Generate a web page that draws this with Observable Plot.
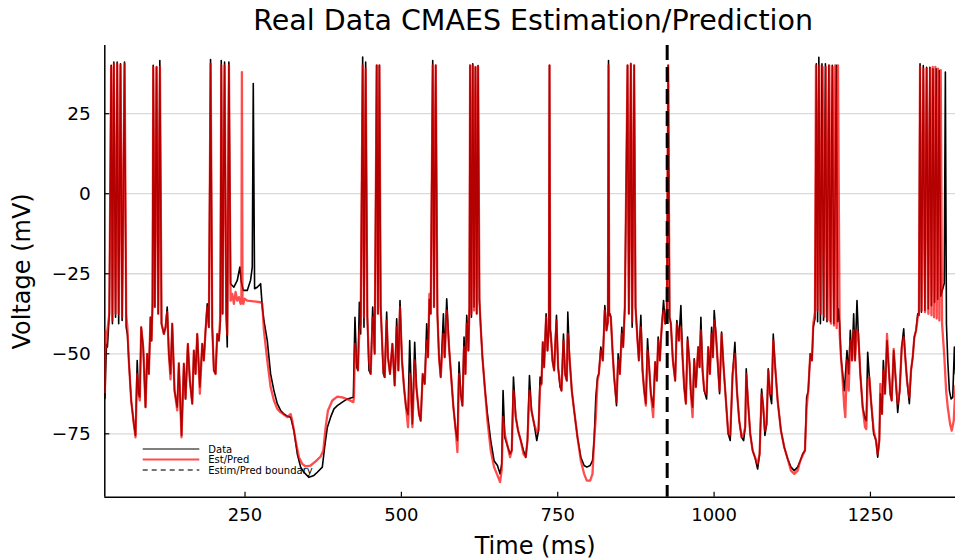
<!DOCTYPE html>
<html><head><meta charset="utf-8">
<script src="https://cdn.jsdelivr.net/npm/d3@7"></script>
<script src="https://cdn.jsdelivr.net/npm/@observablehq/plot@0.6"></script>
<style>
body{margin:0;background:#fff;}
#chart svg{display:block;}
</style></head><body><div id="chart"></div>
<script>
const titleText = "Real Data CMAES Estimation/Prediction";
const xLabel = "Time (ms)";
const yLabel = "Voltage (mV)";
const seriesNames = ["Data", "Est/Pred", "Estim/Pred boundary"];
const xTicks = [250, 500, 750, 1000, 1250];
const yTicks = [-75, -50, -25, 0, 25];
const xDomain = [25.8, 1386];
const yDomain = [-94.8, 46.3];
const boundaryTime = [925];

// Data (black) subthreshold trace [time ms, mV]
const dataSub = [[26,-64],[27,-56.3],[28.5,-47],[30,-47.9],[33,-37.5],[38,-40.6],[43,-38.6],[48,-40.6],[53.5,-39.6],[60,-41.7],[62,-44],[64.2,-52.1],[68,-64.6],[72.2,-71.9],[74.9,-75.5],[77.6,-52.1],[79.7,-62.5],[81.8,-63.5],[84,-41.7],[87.2,-47.9],[90.9,-66.7],[93.6,-50],[96.2,-56.3],[98.9,-38.6],[100.5,-45.9],[102.1,-35],[105.8,-35.4],[111.2,-37.5],[116.5,-40.6],[120.2,-43.8],[122.9,-41.7],[125.6,-35.4],[128.2,-50],[130.9,-56.3],[133.6,-40.6],[137.3,-61.5],[141.6,-66.7],[144.2,-53],[148.5,-75.5],[152.2,-53.1],[154.9,-64.1],[158.6,-46.9],[161.8,-58.4],[165.6,-65.6],[168.2,-49],[170.9,-56.3],[173.6,-43.8],[177.8,-60.4],[181.6,-46.9],[184.2,-52.1],[186.9,-42.7],[189.6,-34.4],[192.2,-41.7],[197.6,-41.7],[200.2,-55.2],[202.9,-56.3],[205.6,-43.8],[208.2,-45.9],[210.5,-40],[214.1,-37.5],[220,-37.5],[221.6,-47.9],[226.9,-28.1],[232.2,-29.2],[237.6,-27.1],[241.8,-22.9],[244,-27.5],[247.2,-30.2],[253.6,-30.2],[258.9,-27],[261.6,-22.9],[265.3,-29.7],[269.6,-29.2],[274.9,-28.1],[277.6,-35.4],[280.2,-39.6],[285.6,-45.9],[290.9,-56.3],[296.2,-61.5],[301.6,-65.6],[306.9,-67.7],[312.2,-68.8],[317.6,-69.5],[322.9,-69.8],[328.2,-74],[333.6,-81.3],[338.9,-85.4],[344.2,-87],[352.2,-88.6],[360.2,-88],[365.6,-87],[373.6,-85.4],[377.3,-79.2],[381.6,-73],[386.9,-69.8],[392.2,-67.2],[397.6,-66.2],[405.6,-65.1],[413.6,-64.1],[423.2,-63.6],[425.8,-38.6],[428.5,-54.2],[430.6,-55.2],[432.8,-33.9],[434.9,-43.8],[440.2,-41.7],[445.6,-38.6],[448.2,-55.2],[450.9,-56.3],[454.1,-35.4],[457.3,-50],[462.6,-37.5],[466.9,-35.4],[471.2,-56.3],[473.3,-57.3],[476.5,-37],[478.6,-51.1],[481.8,-56.3],[485.6,-46.9],[489.3,-59.9],[492.5,-39.1],[495.2,-55.2],[497.8,-33.4],[501,-52.1],[504.2,-60.4],[507.4,-66.7],[510.6,-69],[513.3,-45.9],[517.6,-71.9],[521.3,-46.4],[524,-60.4],[528.2,-68.8],[530.9,-70.9],[534.1,-56.3],[537.3,-59.4],[540.5,-40.6],[542.6,-51.1],[544.8,-33],[546.9,-37.5],[552.2,-35.4],[557.6,-37.5],[560.2,-51.1],[562.9,-57.3],[567.2,-37.5],[569.3,-51.1],[572.5,-32.8],[576.2,-47.9],[578.9,-55.2],[583.2,-66.7],[586.9,-74],[589.6,-77.1],[592.2,-52.6],[594.9,-62.5],[597.6,-66.2],[600.2,-44.8],[602.4,-56.3],[604.5,-38],[607.2,-49],[608.8,-35.4],[612,-38.6],[616.2,-35.4],[620.5,-37.5],[624.8,-33.4],[626.9,-41.7],[629.6,-51.1],[633.8,-61.5],[637.6,-68.8],[642.9,-77.1],[648.2,-83.4],[653.6,-84.9],[657.8,-87.5],[660.5,-84.4],[662.6,-61.5],[665.3,-76.1],[669.6,-78.7],[673.8,-81.3],[676.5,-80.2],[679.2,-57.3],[682.9,-69.8],[686.6,-74],[690.9,-77.1],[695.2,-80.2],[698.9,-82.3],[701.6,-77.1],[704.8,-56.8],[708,-67.7],[712.2,-71.9],[716.5,-77.1],[719.2,-74],[721.8,-57.3],[724,-59.4],[726.1,-46.4],[728.2,-54.2],[731.4,-37.5],[733.6,-49],[735.8,-42],[738,-42.5],[738.9,-43.8],[741.6,-52.1],[744.2,-55.2],[748,-38],[750.6,-54.2],[753.8,-60.4],[756,-61.5],[759.2,-43.8],[761.8,-56.3],[764.5,-58.4],[766.1,-37],[768.8,-51.1],[772.5,-61.5],[776.2,-67.7],[781.6,-76.1],[786.9,-82.3],[792.2,-84.9],[796.5,-85.4],[801.8,-84.9],[805.6,-83.4],[808.2,-77.1],[810.9,-63.6],[813.6,-57.3],[815.7,-56.3],[818.9,-47.9],[822.1,-52.1],[825.3,-34.9],[828,-42.7],[830.2,-40],[832.3,-38],[833.3,-37.5],[834.9,-38.6],[837.6,-49],[840.2,-57.3],[844,-66.2],[846.6,-50],[849.3,-56.3],[852.5,-41.7],[854.6,-47.9],[857.3,-35.4],[863.7,-37.5],[869,-41.7],[874.4,-35.4],[877.6,-45.9],[879.7,-52.1],[882.9,-38],[885.6,-55.2],[888.2,-61.5],[890.9,-65.6],[893.6,-45.3],[896.2,-54.2],[898.9,-62.5],[902.6,-66.7],[905.8,-52.6],[908.5,-58.4],[910.6,-44.8],[913.3,-52.1],[914.9,-45.9],[917,-39.6],[919.2,-33.4],[921.8,-40.6],[924.5,-36],[928.8,-38.6],[930.9,-40.6],[934.1,-52.1],[937.8,-58.4],[940.5,-39.6],[943.7,-45.9],[946.9,-34.9],[949.6,-51.1],[952.2,-60.4],[954.9,-65.6],[957.6,-44.8],[960.8,-53.1],[962.9,-62.5],[965.6,-66.7],[968.2,-51.6],[970.9,-60.4],[974.6,-47.9],[976.8,-54.2],[978.9,-38.6],[981.6,-55.2],[984.2,-61.5],[988,-64.1],[990.6,-47.9],[993.3,-56.3],[996,-41.7],[998.1,-51.1],[1000.2,-36.5],[1002.9,-43.8],[1005.6,-52.1],[1008.8,-62.5],[1012,-43.2],[1015.2,-54.2],[1018.9,-64.6],[1022.6,-75],[1025.8,-77.1],[1029.6,-56.3],[1033.3,-46.4],[1036.5,-61.5],[1040.2,-70.9],[1044,-76.1],[1047.2,-77.1],[1049.8,-72.9],[1051.4,-54.7],[1054.1,-64.6],[1057.8,-75],[1061.6,-80.2],[1065.3,-82.3],[1069.6,-86],[1072.8,-81.3],[1076,-61],[1078.6,-66.7],[1081.3,-75.5],[1084,-71.9],[1086.6,-54.7],[1089.3,-62.5],[1092,-65.6],[1094.6,-43.8],[1097.3,-53.1],[1101.6,-64.6],[1106.9,-74],[1112.2,-79.2],[1117.6,-82.8],[1122.9,-85.4],[1128.2,-86.5],[1133.6,-85.4],[1137.8,-83.4],[1141.6,-81.3],[1145.3,-80.2],[1148,-63.6],[1150.6,-61.5],[1153.8,-50],[1156.5,-52.1],[1158.6,-41.7],[1161.3,-39],[1165.5,-40],[1170,-40.6],[1175,-39.5],[1180.5,-40],[1186,-40],[1191.5,-40.6],[1197.5,-40],[1199,-36],[1200.8,-40.6],[1202.9,-51.1],[1205.6,-56.3],[1208.2,-61.5],[1209.8,-57.3],[1212.5,-49],[1215.2,-56.3],[1217.8,-42.7],[1220.5,-52.1],[1223.2,-37.5],[1225.3,-52.1],[1228.5,-33.4],[1230.6,-43.8],[1233.8,-56.3],[1237.6,-66.7],[1241.3,-70.3],[1243.4,-70.9],[1245.6,-49.5],[1248.2,-57.3],[1250.9,-64.6],[1255.2,-75],[1258.9,-77.1],[1261.6,-82.3],[1264.2,-77.1],[1265.8,-62.5],[1268.5,-68.8],[1270.6,-52.1],[1273.3,-62.5],[1276.5,-45.9],[1279.2,-54.2],[1281.8,-62.5],[1284,-64.6],[1287.2,-49],[1289.8,-56.3],[1293.6,-68.3],[1296.8,-61.5],[1300,-47.9],[1303.2,-42.2],[1305.3,-50],[1308.5,-58.4],[1312.2,-65.6],[1314.9,-55.2],[1317.6,-51.1],[1320.2,-44.8],[1322.9,-42.7],[1325.6,-37.5],[1327.5,-38],[1331.5,-37],[1337,-36.5],[1342.5,-36],[1347.5,-35],[1352.5,-34],[1357.5,-33],[1362.5,-32],[1365,-30.2],[1368,-28],[1371.5,-40.6],[1373.6,-52.1],[1376.2,-61.5],[1378.9,-64.1],[1381.6,-63.6],[1384.2,-47.9],[1386,-56.3]];

// Data (black) spike peaks [time ms, mV]
const dataSpikes = [[36,40.1],[40.2,41.1],[45.6,41.1],[50.9,40.6],[57.3,41.1],[103.2,40.1],[108.5,39.6],[113.8,41.6],[194.9,41.9],[212,41.6],[217.3,41.1],[224.2,41.1],[263.2,34.4],[438.1,42.7],[442.9,41.1],[460.5,40.1],[464.8,40.1],[550.1,41.6],[554.9,40.1],[609.8,40.1],[614.1,40.6],[618.4,39.6],[622.6,40],[736.8,40.1],[831.2,41.6],[861.6,40.1],[866.9,40.6],[872.2,40.1],[926.6,40.1],[1163.5,40.6],[1167.5,42.6],[1172.5,40.6],[1178,40.6],[1183.5,40.1],[1189,40.1],[1195.5,40.1],[1329.3,40.6],[1334.5,40],[1339.8,39.5],[1345,39.5],[1350,39],[1355,39],[1360,38.5],[1369.8,38]];

// Est/Pred (red) subthreshold trace [time ms, mV]
const predSub = [[26,-62],[27,-43],[28.5,-48],[30,-42.7],[33,-37.5],[38,-39.6],[43,-37.5],[48,-37.5],[53.5,-38.6],[60,-37.5],[62,-42],[64.2,-52.1],[68,-64.6],[72.2,-71.9],[74.9,-76.1],[77.6,-56.3],[79.7,-62.5],[81.8,-64.6],[84,-41.7],[87.2,-47.9],[90.9,-66.7],[93.6,-50],[96.2,-56.3],[98.9,-38.6],[100.5,-45.9],[102.1,-33.5],[105.8,-35.4],[111.2,-37.5],[116.5,-40.6],[120.2,-43.8],[122.9,-41.7],[125.6,-37],[128.2,-50],[130.9,-58],[133.6,-40.6],[137.3,-61.5],[141.6,-67.7],[144.2,-53],[148.5,-76.1],[152.2,-53.1],[154.9,-64.1],[158.6,-46.9],[161.8,-58.4],[165.6,-65.6],[168.2,-49],[170.9,-56.3],[173.6,-43.8],[177.8,-62.5],[181.6,-46.9],[184.2,-52.1],[186.9,-42.7],[189.6,-35.5],[192.2,-41.7],[197.6,-41.7],[200.2,-55.2],[202.9,-56.3],[205.6,-43.8],[208.2,-45.9],[210.5,-38],[214.1,-37.5],[220,-37.5],[221.6,-44],[226.9,-33.4],[229.6,-31.3],[232.2,-34.4],[234.9,-30.7],[237.6,-33.4],[240.2,-32.3],[242.9,-34.4],[244.2,-33.5],[246,-34],[247.2,-34.4],[249.3,-32.8],[253.6,-33.4],[274.9,-33.9],[277.6,-34.4],[280.2,-42.7],[285.6,-52.1],[290.9,-60.4],[296.2,-64.6],[301.6,-67.2],[306.9,-68.3],[312.2,-69],[317.6,-69.8],[322.9,-68.8],[325.6,-70.9],[330.9,-77.1],[336.2,-82.3],[341.6,-84.4],[346.9,-85.2],[354.9,-84.9],[362.9,-83.6],[370.9,-82.1],[375.2,-80.2],[378.9,-72.9],[382.6,-67.7],[389.6,-64.6],[397.6,-63.4],[405.6,-63.6],[416.2,-64.4],[423.2,-65.1],[424.2,-63.6],[425.8,-46.9],[428.5,-52.1],[430.6,-55.2],[432.8,-42.7],[434.9,-40.6],[440.2,-38.6],[445.6,-38.6],[448.2,-52.1],[450.9,-56.3],[454.1,-38.6],[457.3,-50],[462.6,-37.5],[466.9,-35.4],[471.2,-55.2],[473.3,-57.3],[476.5,-39.6],[478.6,-51.1],[481.8,-56.3],[485.6,-46.9],[489.3,-59.9],[492.5,-41.7],[495.2,-55.2],[497.8,-35.4],[501,-52.1],[504.2,-60.4],[507.4,-66.7],[510.6,-72.9],[513.8,-56.3],[517.6,-72.9],[521.3,-52.1],[524,-60.4],[528.2,-68.8],[530.9,-70.9],[534.1,-56.3],[537.3,-59.4],[540.5,-45.9],[542.6,-51.1],[544.8,-31.3],[546.9,-37.5],[552.2,-35.4],[557.6,-37.5],[560.2,-51.1],[562.9,-57.3],[567.2,-43.8],[569.3,-51.1],[572.5,-36.5],[576.2,-47.9],[578.9,-55.2],[583.2,-66.7],[586.9,-74],[589.6,-80.7],[592.2,-56.3],[594.9,-62.5],[597.6,-66.2],[600.2,-47.9],[602.4,-56.3],[604.5,-40.6],[607.2,-49],[608.8,-35.4],[612,-37.5],[616.2,-36.5],[620.5,-37.5],[624.8,-33.4],[626.9,-41.7],[629.6,-51.1],[633.8,-61.5],[637.6,-70.9],[642.9,-80.2],[648.2,-85.4],[653.6,-88],[657.8,-90.1],[660.5,-86],[662.6,-69.8],[665.3,-75],[669.6,-78.7],[673.8,-82.3],[676.5,-80.2],[679.2,-61.5],[682.9,-69.8],[686.6,-74],[690.9,-77.1],[695.2,-81.3],[698.9,-82.3],[701.6,-77.1],[704.8,-61.5],[708,-67.7],[712.2,-71.9],[716.5,-74.5],[719.2,-74],[721.8,-60.4],[724,-59.4],[726.1,-46.4],[728.2,-54.2],[731.4,-38.6],[733.6,-49],[735.9,-42],[738,-42.5],[738.9,-43.8],[741.6,-52.1],[744.2,-55.2],[748,-39.6],[750.6,-54.2],[753.8,-59.4],[756,-61.5],[759.2,-45.9],[761.8,-56.3],[764.5,-58.4],[766.1,-43.8],[768.8,-51.1],[772.5,-61.5],[776.2,-67.7],[781.6,-76.1],[786.9,-83.4],[792.2,-87.5],[796.5,-89.6],[801.8,-89.6],[805.6,-87.5],[808.2,-77.1],[810.9,-69.8],[813.6,-58.4],[815.7,-56.3],[818.9,-49],[822.1,-52.1],[825.3,-36.5],[828,-42.7],[830.3,-40],[832.3,-38],[833.3,-37.5],[834.9,-38.6],[837.6,-49],[840.2,-57.3],[844,-65.1],[846.6,-52.1],[849.3,-56.3],[852.5,-43.8],[854.6,-47.9],[857.3,-35.4],[863.7,-37.5],[869,-40],[874.4,-35.4],[877.6,-45.9],[879.7,-52.1],[882.9,-41.7],[885.6,-55.2],[888.2,-61.5],[890.9,-66.2],[893.6,-49],[896.2,-54.2],[898.9,-62.5],[902.6,-69.8],[905.8,-52.6],[908.5,-58.4],[910.6,-45.9],[913.3,-52.1],[914.9,-45.9],[917,-39.6],[919.2,-36.5],[921.8,-40.6],[924.5,-37],[928.8,-38.6],[930.9,-40.6],[934.1,-52.1],[937.8,-58.4],[940.5,-40.6],[943.7,-45.9],[946.9,-41.7],[949.6,-51.1],[952.2,-60.4],[954.9,-65.6],[957.6,-45.9],[960.8,-53.1],[962.9,-62.5],[965.6,-69.8],[968.2,-52.1],[970.9,-60.4],[974.6,-47.9],[976.8,-54.2],[978.9,-42.7],[981.6,-55.2],[984.2,-61.5],[988,-62.5],[990.6,-47.9],[993.3,-56.3],[996,-43.8],[998.1,-51.1],[1000.2,-39.6],[1002.9,-43.8],[1005.6,-52.1],[1008.8,-61.5],[1012,-43.8],[1015.2,-54.2],[1018.9,-64.6],[1022.6,-75],[1025.8,-75.5],[1029.6,-56.3],[1033.3,-50],[1036.5,-61.5],[1040.2,-70.9],[1044,-76.1],[1047.2,-75],[1049.8,-72.9],[1051.4,-56.3],[1054.1,-64.6],[1057.8,-75],[1061.6,-80.2],[1065.3,-82.3],[1069.6,-84.4],[1072.8,-81.3],[1076,-62.5],[1078.6,-66.7],[1081.3,-74],[1084,-71.9],[1086.6,-55.2],[1089.3,-62.5],[1092,-62.5],[1094.6,-45.9],[1097.3,-53.1],[1101.6,-64.6],[1106.9,-74],[1112.2,-79.2],[1117.6,-82.8],[1122.9,-86.5],[1128.2,-87.5],[1133.6,-86.5],[1137.8,-83.4],[1141.6,-81.8],[1145.3,-80.2],[1148,-66.7],[1150.6,-61.5],[1153.8,-50],[1156.5,-52.1],[1158.6,-40.6],[1161.3,-37],[1165.5,-36.5],[1171,-37.5],[1176.2,-38.5],[1181.5,-39.5],[1187,-40.6],[1191.8,-41.2],[1196,-42],[1200.8,-43.8],[1202.9,-51.1],[1205.6,-58.4],[1208.2,-66.7],[1209.8,-69.8],[1212.5,-52.1],[1215.2,-61.5],[1217.8,-45.9],[1220.5,-52.1],[1223.2,-42.7],[1225.3,-52.1],[1228.5,-42.7],[1230.6,-43.8],[1233.8,-56.3],[1237.6,-66.7],[1241.3,-72.9],[1243.4,-73.5],[1245.6,-58.4],[1248.2,-57.3],[1250.9,-64.6],[1255.2,-74],[1258.9,-77.1],[1261.6,-81.3],[1264.2,-77.1],[1265.8,-59.4],[1268.5,-68.8],[1270.6,-55.2],[1273.3,-62.5],[1276.5,-43.8],[1279.2,-54.2],[1281.8,-62.5],[1284,-64.6],[1287.2,-48.5],[1289.8,-56.3],[1293.6,-65.6],[1296.8,-61.5],[1300,-47.9],[1303.2,-44.8],[1305.3,-50],[1308.5,-58.4],[1312.2,-63.6],[1314.9,-55.2],[1317.6,-51.1],[1320.2,-44.8],[1322.9,-42.7],[1325.6,-38.6],[1327.5,-37],[1332,-36.5],[1337.3,-37],[1342.6,-37.5],[1347.5,-38],[1351.7,-38.6],[1356,-39],[1360.2,-39.6],[1364.5,-40.6],[1368.2,-51.1],[1371,-61.5],[1373.6,-66.7],[1377.3,-71.9],[1380,-74],[1383.2,-70.9],[1386,-60]];

// Est/Pred (red) spike peaks [time ms, mV]
const predSpikes = [[36,39.6],[40.3,40.6],[45.8,40.6],[51,40.1],[57.5,40.6],[103.3,39.6],[108.6,39.6],[114,39.6],[195,40.6],[212.1,40.1],[217.4,40.1],[224.3,40.1],[245,38],[438.2,40.1],[443,39],[460.6,40.1],[464.9,40.1],[550.2,40.1],[555,40.1],[609.9,40.1],[614.2,40.1],[618.5,39.6],[622.7,39.6],[736.9,40.1],[831.3,40.1],[861.6,40.1],[866.9,40.6],[872.2,40.1],[926.6,40.1],[1162.9,40.1],[1168.2,40.1],[1173.6,39.6],[1178.9,39.6],[1184.2,40.1],[1189.6,39.6],[1193.7,40.1],[1198.1,40.1],[1329.3,39.6],[1334.6,39.1],[1340,39.1],[1345.3,39.1],[1349.6,39.6],[1353.8,39.6],[1358.1,39.1],[1362.4,38.6]];

const build = (sub, spikes) => sub.concat(spikes).map(([t, v]) => ({t, v})).sort((a, b) => a.t - b.t);
const dataSeries = build(dataSub, dataSpikes);
const predSeries = build(predSub, predSpikes);

const fmt = d => d < 0 ? "\u2212" + Math.abs(d) : String(d);
const font = "'DejaVu Sans', sans-serif";
const W = 956, H = 560, mL = 104.3, mR = 1, mT = 45, mB = 63.3;

const plot = Plot.plot({
  width: W, height: H,
  marginLeft: mL, marginRight: mR, marginTop: mT, marginBottom: mB,
  style: {fontFamily: font, background: "#fff", overflow: "visible"},
  x: {domain: xDomain},
  y: {domain: yDomain},
  marks: [
    Plot.gridY(yTicks, {stroke: "#000", strokeOpacity: 0.15, strokeWidth: 1.3}),
    Plot.ruleY([yDomain[0]], {stroke: "#000", strokeWidth: 1.5}),
    Plot.ruleX([xDomain[0]], {stroke: "#000", strokeWidth: 1.5}),
    Plot.tickX(xTicks, {x: d => d, insetTop: (H - mT - mB) - 5, stroke: "#000", strokeWidth: 1.2}),
    Plot.tickY(yTicks, {y: d => d, insetRight: (W - mL - mR) - 5, stroke: "#000", strokeWidth: 1.2}),
    Plot.axisX(xTicks, {tickSize: 0, tickPadding: 11, fontSize: 18, label: null, tickFormat: fmt}),
    Plot.axisY(yTicks, {tickSize: 0, tickPadding: 14, fontSize: 18.5, label: null, tickFormat: fmt}),
    Plot.line(dataSeries, {x: "t", y: "v", stroke: "#000", strokeWidth: 1.6, strokeLinejoin: "round", clip: true}),
    Plot.line(predSeries, {x: "t", y: "v", stroke: "red", strokeOpacity: 0.7, strokeWidth: 2.3, strokeLinejoin: "round", clip: true}),
    Plot.ruleX(boundaryTime, {stroke: "#000", strokeWidth: 3, strokeDasharray: "15,7"}),
    Plot.text([titleText], {frameAnchor: "top", lineAnchor: "middle", textAnchor: "middle", dy: -25, dx: 3, fontSize: 28.5}),
    Plot.text([xLabel], {frameAnchor: "bottom", lineAnchor: "middle", textAnchor: "middle", dy: 49, dx: 5, fontSize: 24}),
    Plot.text([yLabel], {frameAnchor: "left", lineAnchor: "middle", textAnchor: "middle", dx: -82, rotate: -90, fontSize: 24})
  ]
});

// Legend (bottom-left inside the plot area)
const legendItems = [
  {name: seriesNames[0], stroke: "#000", width: 1.2, dash: null, opacity: 1},
  {name: seriesNames[1], stroke: "red", width: 2, dash: null, opacity: 0.7},
  {name: seriesNames[2], stroke: "#333", width: 1.3, dash: "5,4", opacity: 0.9}
];
const lg = d3.select(plot).append("g").attr("font-family", font).attr("font-size", 10).attr("text-anchor", "start");
legendItems.forEach((it, i) => {
  const y = 449 + i * 10.5;
  lg.append("line").attr("x1", 142.7).attr("x2", 199.3).attr("y1", y).attr("y2", y)
    .attr("stroke", it.stroke).attr("stroke-width", it.width).attr("stroke-opacity", it.opacity)
    .attr("stroke-dasharray", it.dash);
  lg.append("text").attr("x", 208.3).attr("y", y).attr("dy", "0.35em").attr("fill", "#000").text(it.name);
});

document.getElementById("chart").appendChild(plot);
</script>
</body></html>
